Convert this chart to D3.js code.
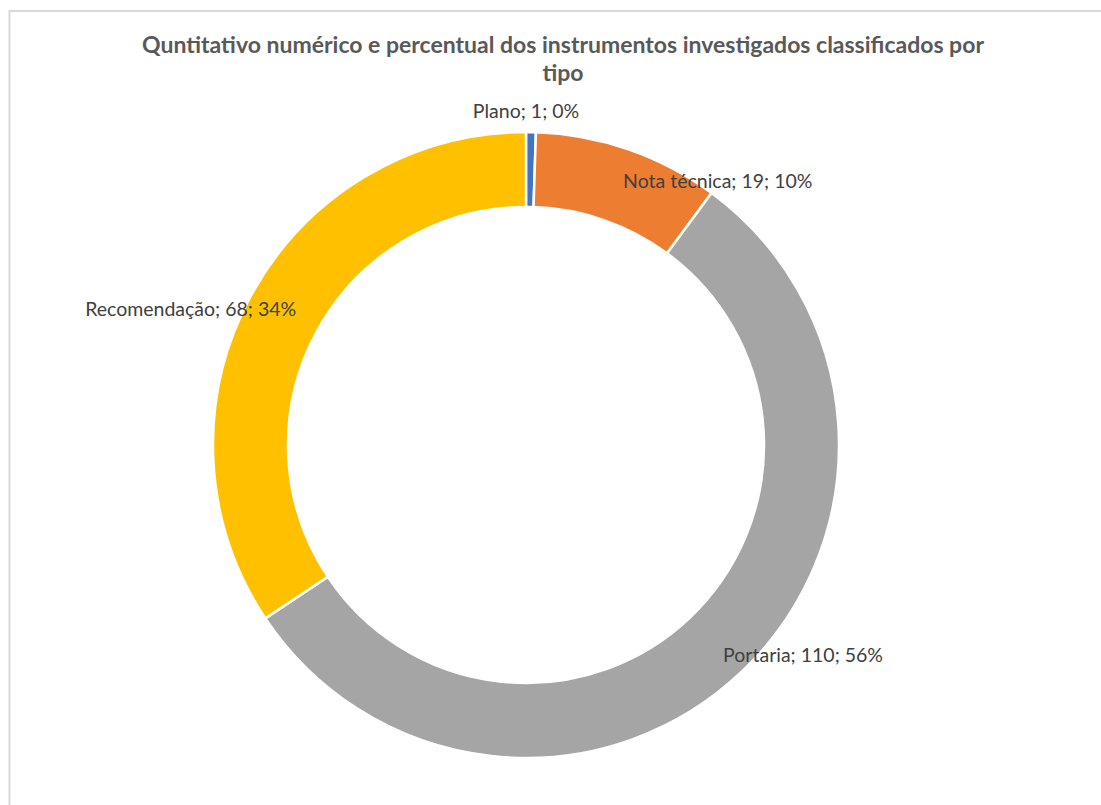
<!DOCTYPE html>
<html>
<head>
<meta charset="utf-8">
<script src="https://cdn.jsdelivr.net/npm/d3@7"></script>
<style>
  html, body { margin: 0; padding: 0; background: #fff; }
  svg { display: block; }
</style>
</head>
<body>
<svg id="chart" width="1101" height="805"></svg>
<script>
// Instrument types and their counts
const categories = ["Plano", "Nota técnica", "Portaria", "Recomendação"];
const counts = [1, 19, 110, 68];
const percentLabels = ["0%", "10%", "56%", "34%"];
const sliceColors = ["#4472C4", "#ED7D31", "#A5A5A5", "#FFC000"];

const titleLines = [
  "Quntitativo numérico e percentual dos instrumentos investigados classificados por",
  "tipo"
];

const W = 1101, H = 805;
const cx = 526, cy = 445;
const outerR = 313, innerR = 238;

const svg = d3.select("#chart");

// Chart frame
svg.append("rect")
  .attr("x", 9.5).attr("y", 11)
  .attr("width", W + 20).attr("height", H + 20)
  .attr("fill", "#fff")
  .attr("stroke", "#d9d9d9")
  .attr("stroke-width", 2);

// Title
const title = svg.append("text")
  .attr("text-anchor", "middle")
  .attr("font-family", "Lato, 'Open Sans', sans-serif")
  .attr("font-weight", "bold")
  .attr("font-size", 23)
  .attr("fill", "#595959");
titleLines.forEach((t, i) => {
  title.append("tspan").attr("x", 563).attr("y", 53 + i * 28).text(t);
});

const data = categories.map((c, i) => ({
  name: c, value: counts[i], pct: percentLabels[i], color: sliceColors[i]
}));

const pie = d3.pie().sort(null).value(d => d.value).startAngle(0).endAngle(2 * Math.PI);
const arc = d3.arc().innerRadius(innerR).outerRadius(outerR);
const arcs = pie(data);

const g = svg.append("g").attr("transform", `translate(${cx},${cy})`);

g.selectAll("path.slice")
  .data(arcs)
  .join("path")
  .attr("class", "slice")
  .attr("d", arc)
  .attr("fill", d => d.data.color)
  .attr("stroke", "#fff")
  .attr("stroke-width", 2.5);

// Data label placement relative to each slice centroid
const labelPlacement = {
  "Plano":        { anchor: "middle", dx: 0,  dy: 0,  outside: true },
  "Nota técnica": { anchor: "start",  dx: 7,  dy: 3 },
  "Portaria":     { anchor: "start",  dx: 7,  dy: 18 },
  "Recomendação": { anchor: "end",    dx: 13, dy: 1 }
};
const outsideArc = d3.arc().innerRadius(outerR + 14).outerRadius(outerR + 14);

g.selectAll("text.lbl")
  .data(arcs)
  .join("text")
  .attr("class", "lbl")
  .each(function(d) {
    const p = labelPlacement[d.data.name];
    let [x, y] = p.outside ? outsideArc.centroid(d) : arc.centroid(d);
    if (p.outside) x = 0;
    d3.select(this)
      .attr("x", x + p.dx)
      .attr("y", y + p.dy)
      .attr("text-anchor", p.anchor);
  })
  .attr("font-family", "Lato, 'Open Sans', sans-serif")
  .attr("font-size", 19.5)
  .attr("fill", "#404040")
  .text(d => `${d.data.name}; ${d.data.value}; ${d.data.pct}`);
</script>
</body>
</html>
